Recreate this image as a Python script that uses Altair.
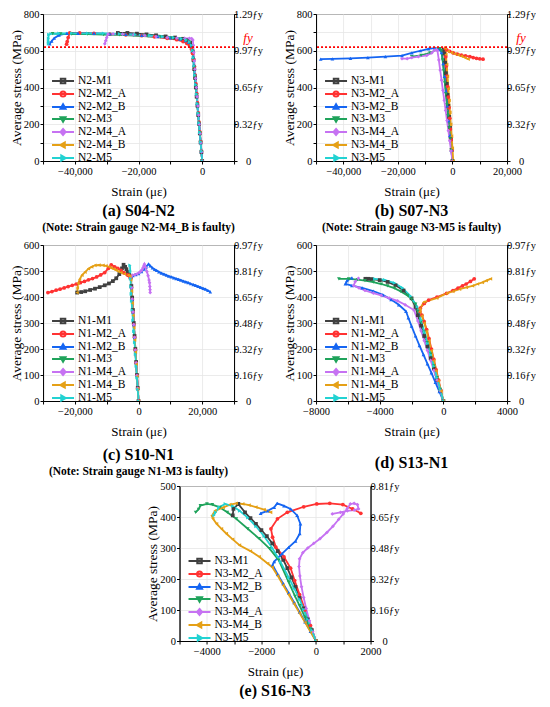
import json
import altair as alt
import pandas as pd

FONT = "Liberation Serif"
FY = 620

SERIES = ["M1", "M2_A", "M2_B", "M3", "M4_A", "M4_B", "M5"]
COLORS = ["#404040", "#ff3232", "#1565f2", "#1fa35b", "#c672f2", "#e5a016", "#22d2d2"]
MARKERS = ["square", "circle", "triangle-up", "triangle-down", "diamond", "triangle-left", "triangle-right"]
LEGEND_SYMBOLS = [
    "M-2.2,0H2.2M-0.45,-0.45H0.45V0.45H-0.45Z",
    "M-2.2,0H2.2M0.5,0A0.5,0.5 0 1,1 -0.5,0A0.5,0.5 0 1,1 0.5,0Z",
    "M-2.2,0H2.2M0,-0.55L0.5,0.35H-0.5Z",
    "M-2.2,0H2.2M0,0.55L0.5,-0.35H-0.5Z",
    "M-2.2,0H2.2M0,-0.6L0.5,0L0,0.6L-0.5,0Z",
    "M-2.2,0H2.2M-0.55,0L0.35,-0.5V0.5Z",
    "M-2.2,0H2.2M0.55,0L-0.35,-0.5V0.5Z",
]

# ---------------- (a) S04-N2 ----------------
A_M1 = [(0, 0), (-250, 48), (-500, 101), (-750, 150), (-1000, 202), (-1250, 250), (-1500, 301), (-1750, 350),
        (-2000, 400), (-2250, 452), (-2500, 500), (-2750, 550), (-3000, 595), (-3300, 625), (-3800, 645),
        (-4600, 657), (-6000, 665), (-8500, 672), (-11500, 678), (-14500, 684), (-17500, 689), (-20500, 693),
        (-23500, 697), (-26500, 697)]
A_M2_A = [(0, 0), (-240, 52), (-490, 106), (-730, 158), (-980, 211), (-1220, 262), (-1470, 316), (-1710, 367),
          (-1960, 420), (-2200, 468), (-2450, 515), (-2700, 553), (-3000, 585), (-3400, 610), (-4000, 628),
          (-4800, 640), (-6000, 650), (-8000, 660), (-11000, 668), (-15000, 676), (-19000, 682), (-24000, 687),
          (-29000, 691), (-34000, 695), (-38500, 697), (-41600, 697), (-42100, 672), (-42400, 650), (-42600, 636)]
A_M2_B = [(0, 0), (-260, 52), (-520, 104), (-780, 157), (-1040, 210), (-1300, 262), (-1560, 314), (-1820, 366),
          (-2080, 418), (-2340, 470), (-2600, 520), (-2850, 565), (-3100, 600), (-3500, 628), (-4200, 645),
          (-5200, 655), (-7000, 663), (-10000, 670), (-14000, 677), (-19000, 684), (-24000, 689), (-29000, 692),
          (-34000, 694), (-39000, 695), (-42500, 694), (-45000, 685), (-46500, 668), (-47300, 652), (-47900, 638)]
A_M3 = [(0, 0), (-250, 51), (-500, 102), (-760, 154), (-1010, 205), (-1260, 256), (-1520, 308), (-1770, 359),
        (-2020, 410), (-2280, 462), (-2530, 512), (-2780, 558), (-3050, 598), (-3400, 628), (-4000, 646),
        (-5000, 656), (-6800, 663), (-9500, 669), (-13000, 674), (-17000, 679), (-21500, 683), (-26000, 686),
        (-31000, 688), (-36000, 690), (-41000, 691), (-44500, 692), (-47000, 693)]
A_M4_A = [(0, 0), (-230, 50), (-460, 100), (-690, 150), (-920, 200), (-1150, 250), (-1380, 300), (-1610, 350),
          (-1840, 400), (-2070, 450), (-2300, 500), (-2500, 545), (-2650, 590), (-2800, 630), (-2950, 658),
          (-3300, 666), (-4000, 667), (-5500, 667), (-8000, 669), (-11000, 672), (-14500, 677), (-18000, 683),
          (-21500, 687), (-25000, 690), (-28000, 692), (-29600, 690), (-30000, 672), (-30300, 655), (-30600, 638)]
A_M4_B = []
A_M5 = [(0, 0), (-255, 52), (-510, 104), (-765, 156), (-1020, 208), (-1275, 260), (-1530, 312), (-1785, 364),
        (-2040, 416), (-2295, 468), (-2550, 518), (-2800, 562), (-3050, 602), (-3400, 630), (-4000, 648),
        (-5000, 658), (-6500, 665), (-9000, 671), (-12500, 677), (-16500, 683), (-21000, 688), (-26000, 692),
        (-31000, 694), (-36000, 695), (-41000, 695), (-45000, 694), (-47500, 692), (-48200, 688), (-48300, 668),
        (-48300, 650), (-48300, 638)]

# ---------------- (b) S07-N3 ----------------
B_M1 = [(0, 0), (-300, 60), (-600, 120), (-900, 180), (-1200, 240), (-1500, 300), (-1800, 360), (-2100, 420),
        (-2400, 478), (-2700, 535), (-3000, 585), (-3300, 605)]
B_M2_A = [(0, 0), (-250, 58), (-500, 116), (-750, 174), (-1000, 232), (-1250, 290), (-1500, 348), (-1750, 405),
          (-2000, 462), (-2250, 518), (-2450, 568), (-2650, 612), (-2100, 605), (-1000, 597), (300, 588),
          (1800, 581), (3300, 576), (4800, 572), (6400, 568), (7600, 563), (8800, 559), (10000, 556), (11200, 554)]
B_M2_B = [(0, 0), (-400, 60), (-900, 140), (-1400, 220), (-1900, 300), (-2400, 380), (-2900, 460), (-3400, 530),
          (-4000, 590), (-5000, 610), (-6400, 614), (-8800, 610), (-11800, 600), (-14900, 588), (-18500, 574),
          (-24600, 568), (-31000, 563), (-37400, 559), (-44000, 556), (-48300, 554)]
B_M3 = [(0, 0), (-400, 60), (-800, 120), (-1200, 180), (-1600, 245), (-2000, 305), (-2400, 365), (-2800, 425),
        (-3200, 490), (-3600, 550), (-4000, 600), (-4600, 612), (-5700, 608), (-8200, 588), (-11500, 575),
        (-14900, 568)]
B_M4_A = [(0, 0), (-500, 55), (-1000, 110), (-1500, 165), (-2000, 220), (-2500, 275), (-3000, 330), (-3500, 385),
          (-4000, 440), (-4500, 495), (-5000, 550), (-5500, 600), (-5800, 606), (-6400, 604), (-7600, 588),
          (-9400, 575), (-12500, 568), (-14900, 563), (-16600, 557), (-18500, 557)]
B_M4_B = [(300, 0), (0, 70), (-300, 135), (-600, 200), (-900, 265), (-1200, 330), (-1500, 395), (-1800, 460),
          (-2100, 525), (-2400, 580), (-2650, 614), (-1500, 597), (-300, 590), (900, 583), (2100, 577),
          (3300, 571), (4500, 563), (5800, 554)]
B_M5 = []

# ---------------- (c) S10-N1 ----------------
C_M1 = [(0, 0), (-250, 50), (-500, 100), (-750, 150), (-1000, 200), (-1250, 250), (-1500, 300), (-1750, 350),
        (-2000, 398), (-2250, 442), (-2500, 475), (-2970, 484), (-3400, 496), (-3800, 507), (-4200, 516),
        (-4700, 524), (-5200, 510), (-6030, 488), (-7000, 472), (-8070, 461), (-9300, 452), (-10620, 445),
        (-12200, 438), (-13680, 432), (-15200, 427), (-16740, 422), (-18000, 419), (-19290, 417)]
C_M2_A = [(0, 0), (-240, 48), (-490, 97), (-730, 146), (-980, 196), (-1220, 244), (-1470, 293), (-1710, 342),
          (-1960, 390), (-2200, 436), (-2450, 472), (-2900, 481), (-3480, 485), (-4500, 493), (-5500, 502),
          (-6500, 510), (-7500, 516), (-8580, 524), (-9500, 510), (-10620, 494), (-11900, 485), (-13170, 477),
          (-14450, 471), (-15720, 466), (-17000, 460), (-18270, 455), (-19550, 450), (-20820, 445), (-22100, 440),
          (-23370, 435), (-24650, 430), (-25900, 426), (-27200, 421), (-28470, 417)]
C_M2_B = [(0, 0), (-245, 49), (-490, 98), (-735, 147), (-980, 196), (-1225, 245), (-1470, 294), (-1715, 343),
          (-1960, 392), (-2200, 438), (-2420, 478), (-1800, 482), (-900, 486), (0, 490), (900, 498), (1700, 507),
          (2400, 516), (3150, 527), (3700, 520), (4400, 512), (5100, 506), (5700, 502), (6400, 497), (7200, 492),
          (8000, 488), (8760, 484), (9500, 480), (10300, 477), (11100, 474), (11820, 471), (12600, 468),
          (13300, 465), (14100, 461), (14880, 458), (15600, 455), (16400, 451), (17200, 448), (17940, 445),
          (18700, 441), (19500, 437), (20300, 433), (21000, 430), (21800, 425), (22530, 420)]
C_M3 = []
C_M4_A = [(0, 0), (-250, 49), (-500, 98), (-750, 147), (-1000, 196), (-1250, 245), (-1500, 294), (-1750, 343),
          (-2000, 392), (-2200, 436), (-2400, 478), (-1950, 484), (-1200, 486), (-420, 489), (300, 495),
          (800, 500), (1110, 505), (1450, 513), (1700, 520), (1850, 526), (2200, 514), (2640, 498), (3000, 482),
          (3300, 465), (3456, 455), (3550, 440), (3620, 428), (3660, 417)]
C_M4_B = [(0, 0), (-240, 47), (-480, 94), (-720, 141), (-960, 188), (-1200, 235), (-1440, 282), (-1680, 329),
          (-1920, 376), (-2160, 423), (-2400, 466), (-2700, 480), (-3270, 484), (-4400, 489), (-5520, 494),
          (-6300, 498), (-7000, 503), (-7800, 508), (-8580, 512), (-9300, 516), (-10200, 520), (-11130, 522),
          (-12400, 523), (-13680, 522), (-14700, 516), (-15720, 509), (-16800, 496), (-17760, 484), (-18500, 468),
          (-18980, 452), (-19200, 435), (-19290, 417)]
C_M5 = [(0, 0), (-250, 45), (-500, 90), (-750, 135), (-1000, 180), (-1250, 225), (-1500, 268), (-1750, 310),
        (-2000, 350), (-2200, 385), (-2300, 412), (-2400, 440), (-2500, 470), (-2600, 500), (-2700, 522)]

# ---------------- (d) S13-N1 ----------------
D_M1 = [(0, 0), (-200, 40), (-400, 80), (-600, 125), (-800, 165), (-1000, 210), (-1200, 250), (-1400, 290),
        (-1600, 330), (-1750, 360), (-2000, 395), (-2500, 425), (-3000, 445), (-3500, 458), (-4000, 465),
        (-4500, 469), (-4720, 470), (-4900, 470)]
D_M2_A = [(0, 0), (-150, 40), (-300, 80), (-450, 120), (-600, 160), (-750, 200), (-900, 240), (-1050, 275),
          (-1200, 305), (-1350, 330), (-1480, 345), (-1450, 357), (-1200, 375), (-927, 388), (-400, 400),
          (200, 414), (600, 425), (918, 434), (1200, 443), (1430, 450), (1700, 460), (1940, 470)]
D_M2_B = [(0, 0), (-250, 36), (-500, 72), (-750, 108), (-1000, 143), (-1250, 178), (-1500, 213), (-1750, 250),
          (-2000, 288), (-2200, 320), (-2350, 345), (-2800, 370), (-3285, 390), (-3800, 408), (-4410, 423),
          (-5100, 435), (-5745, 444), (-6155, 450), (-6050, 463), (-5745, 474)]
D_M3 = [(0, 0), (-200, 45), (-400, 90), (-600, 135), (-800, 180), (-1000, 225), (-1200, 265), (-1400, 305),
        (-1600, 345), (-1750, 373), (-2000, 392), (-2260, 406), (-2700, 422), (-3080, 434), (-3500, 443),
        (-3900, 450), (-4400, 457), (-4925, 463), (-5400, 467), (-5950, 470), (-6565, 470)]
D_M4_A = [(0, 0), (-200, 40), (-400, 80), (-600, 118), (-800, 156), (-1000, 194), (-1200, 232), (-1400, 270),
          (-1600, 308), (-1850, 350), (-2400, 370), (-2875, 385), (-3400, 396), (-3900, 406), (-4400, 415),
          (-4925, 425), (-5300, 435), (-5640, 444), (-5540, 459), (-5335, 472)]
D_M4_B = [(0, 0), (-150, 38), (-300, 77), (-450, 116), (-600, 155), (-750, 194), (-900, 232), (-1050, 268),
          (-1200, 300), (-1350, 327), (-1480, 345), (-1480, 354), (-1235, 380), (-415, 396), (200, 414),
          (600, 422), (1020, 430), (1450, 437), (1840, 443), (2150, 450), (2455, 456), (2700, 463), (2967, 470)]
D_M5 = [(0, 0), (-200, 45), (-400, 90), (-600, 134), (-800, 178), (-1000, 222), (-1200, 265), (-1400, 310),
        (-1645, 362), (-2055, 403), (-2568, 435), (-3080, 454), (-3695, 466), (-4310, 470)]

# ---------------- (e) S16-N3 ----------------
E_M1 = [(0, 0), (-150, 35), (-300, 70), (-450, 105), (-600, 140), (-750, 175), (-900, 205), (-1050, 235),
        (-1200, 262), (-1400, 290), (-1600, 315), (-1800, 338), (-2000, 358), (-2200, 378), (-2400, 396),
        (-2600, 415), (-2845, 442), (-3025, 426), (-3050, 405)]
E_M2_A = [(0, 0), (-200, 50), (-400, 100), (-600, 150), (-780, 195), (-930, 235), (-1170, 271), (-1470, 303),
          (-1590, 335), (-1650, 362), (-1410, 394), (-1050, 415), (-450, 433), (28, 442), (506, 444), (985, 440),
          (1345, 426), (1643, 412)]
E_M2_B = [(0, 0), (-200, 31), (-400, 62), (-600, 93), (-800, 124), (-1000, 155), (-1200, 185), (-1400, 215),
          (-1590, 245), (-1530, 256), (-1240, 282), (-1000, 302), (-750, 322), (-595, 346), (-570, 378),
          (-690, 405), (-930, 426), (-1170, 436), (-1420, 444), (-1530, 431), (-1770, 420), (-2030, 412)]
E_M3 = [(0, 0), (-200, 38), (-400, 76), (-600, 114), (-764, 144), (-1000, 190), (-1364, 261), (-1700, 298),
        (-2080, 330), (-2500, 362), (-2920, 394), (-3250, 415), (-3520, 431), (-3800, 440), (-3995, 442),
        (-4235, 437), (-4300, 425), (-4410, 415)]
E_M4_A = [(0, 0), (-120, 30), (-240, 65), (-360, 105), (-450, 140), (-530, 175), (-590, 210), (-620, 240),
          (-600, 265), (-480, 285), (-300, 300), (-80, 315), (150, 330), (400, 350), (620, 370), (830, 392),
          (1000, 410), (1150, 428), (1260, 442), (1400, 444), (1520, 440), (1560, 426), (1400, 422), (1150, 420),
          (900, 415), (600, 410)]
E_M4_B = [(0, 0), (-200, 30), (-400, 60), (-600, 90), (-800, 120), (-1000, 150), (-1200, 180), (-1400, 210),
          (-1600, 238), (-1770, 250), (-2080, 272), (-2400, 290), (-2800, 309), (-3050, 328), (-3280, 346),
          (-3460, 362), (-3640, 378), (-3780, 395), (-3815, 404), (-3700, 420), (-3395, 431), (-3150, 440),
          (-2920, 444), (-2680, 442), (-2450, 438), (-2200, 432), (-1900, 424), (-1660, 415)]
E_M5 = [(0, 0), (-150, 35), (-300, 70), (-450, 102), (-600, 135), (-800, 170), (-1000, 205), (-1300, 255),
        (-1600, 300), (-1900, 338), (-2200, 370), (-2500, 398), (-2800, 420), (-3050, 435), (-3324, 442),
        (-3550, 432), (-3680, 415), (-3740, 405)]

# ---------------- axes ----------------
XT_A = [-50000, -40000, -30000, -20000, -10000, 0, 10000]
XL_A = [-40000, -20000, 0]
XT_B = [-50000, -40000, -30000, -20000, -10000, 0, 10000, 20000]
XL_B = [-40000, -20000, 0, 20000]
XT_C = [-30000, -20000, -10000, 0, 10000, 20000, 30000]
XL_C = [-20000, 0, 20000]
XT_D = [-8000, -6000, -4000, -2000, 0, 2000, 4000]
XL_D = [-8000, -4000, 0, 4000]
XT_E = [-5000, -4000, -3000, -2000, -1000, 0, 1000, 2000]
XL_E = [-4000, -2000, 0, 2000]
YT_AB = [0, 100, 200, 300, 400, 500, 600, 700, 800]
YL_AB = [0, 200, 400, 600, 800]
YT_CD = [0, 100, 200, 300, 400, 500, 600]
YT_E = [0, 100, 200, 300, 400, 500]
RIGHT_AB = [(0, "0"), (200, "0.32ƒy"), (400, "0.65ƒy"), (600, "0.97ƒy"), (800, "1.29ƒy")]
RIGHT_CD = [(0, "0"), (100, "0.16ƒy"), (200, "0.32ƒy"), (300, "0.48ƒy"), (400, "0.65ƒy"), (500, "0.81ƒy"),
            (600, "0.97ƒy")]
RIGHT_E = [(0, "0"), (100, "0.16ƒy"), (200, "0.32ƒy"), (300, "0.48ƒy"), (400, "0.65ƒy"), (500, "0.81ƒy")]

W = 191


def panel(prefix, curves, xdom, xticks, xlabels, xfmt, ydom, yticks, ylabels, right, title, note, show_fy,
          toff, h):
    names = [f"{prefix}-{s}" for s in SERIES]
    rows = []
    for name, pts in zip(names, curves):
        for i, (sx, sy) in enumerate(pts):
            rows.append({"series": name, "strain": sx, "stress": sy, "idx": i})
    df = pd.DataFrame(rows)
    base = alt.Chart(df)
    xscale = alt.Scale(domain=xdom, nice=False, zero=False)
    yscale = alt.Scale(domain=ydom, nice=False, zero=False)
    xexpr = "indexof(%s, datum.value) >= 0 ? format(datum.value, '%s') : ''" % (json.dumps(xlabels), xfmt)
    X = alt.X("strain:Q", scale=xscale,
              axis=alt.Axis(values=xticks, labelExpr=xexpr, title="Strain (με)", grid=True,
                            labelFlush=False, labelOverlap=False, titlePadding=9))
    yexpr = "indexof(%s, datum.value) >= 0 ? format(datum.value, 'd') : ''" % json.dumps(ylabels)
    Yl = alt.Y("stress:Q", scale=yscale,
               axis=alt.Axis(values=yticks, labelExpr=yexpr, title="Average stress (MPa)", grid=True,
                             titleFontSize=13.5, titlePadding=0, labelPadding=1))
    Yn = alt.Y("stress:Q", scale=yscale, axis=None)
    rexpr = "".join("datum.value == %d ? '%s' : " % (v, t) for v, t in right) + "''"
    Yr = alt.Y("stress:Q", scale=yscale,
               axis=alt.Axis(orient="right", values=[v for v, _ in right], labelExpr=rexpr, title=None,
                             grid=False, labelAlign="center", labelPadding=11))

    layers = [base.mark_point(opacity=0).encode(x=X, y=Yl)]
    for n, col in zip(names, COLORS):
        layers.append(base.transform_filter(alt.datum.series == n).mark_line(
            strokeWidth=1.8, clip=True, color=col).encode(x=X, y=Yn, order="idx:Q"))
    for n, col, m in zip(names, COLORS, MARKERS):
        layers.append(base.transform_filter(alt.datum.series == n).mark_point(
            shape=m, filled=True, size=14, opacity=1, clip=True, color=col).encode(x=X, y=Yn))
    if show_fy:
        fydf = pd.DataFrame({"fy": [FY]})
        layers.append(alt.Chart(fydf).mark_rule(color="#ff0000", strokeDash=[2, 2], strokeWidth=1.6).encode(
            y=alt.Y("fy:Q", scale=yscale, axis=None)))
        layers.append(alt.Chart(fydf).mark_text(text="fy", color="#ff0000", fontStyle="italic", font=FONT,
                                                fontSize=13, dy=-9, align="center").encode(
            x=alt.value(W + 14), y=alt.Y("fy:Q", scale=yscale, axis=None)))
    layers.append(base.mark_point(opacity=0).encode(y=Yr))
    leg = alt.Legend(orient="none", legendX=14, legendY=h - 86, title=None, labelFont=FONT, labelFontSize=11.5,
                     symbolSize=100, symbolStrokeWidth=2, rowPadding=-2, labelOffset=9, padding=0)
    layers.append(base.transform_filter(alt.datum.idx == 0).mark_point(
        filled=False, strokeWidth=2, size=100, opacity=1, clip=True).encode(
        x=alt.value(-999), y=alt.value(-999),
        color=alt.Color("series:N", scale=alt.Scale(domain=names, range=COLORS), legend=leg),
        shape=alt.Shape("series:N", scale=alt.Scale(domain=names, range=LEGEND_SYMBOLS), legend=leg)))
    tkw = dict(text=title, orient="bottom", anchor="middle", font=FONT, fontSize=16, fontWeight="bold",
               color="black", offset=toff)
    if note:
        tkw.update(subtitle=note, subtitleFont=FONT, subtitleFontSize=11.5, subtitleFontWeight="bold",
                   subtitleColor="black", subtitlePadding=3)
    return alt.layer(*layers).resolve_scale(y="independent").properties(
        width=W, height=h, title=alt.TitleParams(**tkw))


pa = panel("N2", [A_M1, A_M2_A, A_M2_B, A_M3, A_M4_A, A_M4_B, A_M5], [-50000, 10000], XT_A, XL_A, ",",
           [0, 800], YT_AB, YL_AB, RIGHT_AB, "(a) S04-N2", "(Note: Strain gauge N2-M4_B is faulty)", True, 4, 147)
pb = panel("N3", [B_M1, B_M2_A, B_M2_B, B_M3, B_M4_A, B_M4_B, B_M5], [-50000, 20000], XT_B, XL_B, ",",
           [0, 800], YT_AB, YL_AB, RIGHT_AB, "(b) S07-N3", "(Note: Strain gauge N3-M5 is faulty)", True, 4, 147)
pc = panel("N1", [C_M1, C_M2_A, C_M2_B, C_M3, C_M4_A, C_M4_B, C_M5], [-30000, 30000], XT_C, XL_C, ",",
           [0, 600], YT_CD, YT_CD, RIGHT_CD, "(c) S10-N1", "(Note: Strain gauge N1-M3 is faulty)", False, 8, 156)
pd_ = panel("N1", [D_M1, D_M2_A, D_M2_B, D_M3, D_M4_A, D_M4_B, D_M5], [-8000, 4000], XT_D, XL_D, "d",
            [0, 600], YT_CD, YT_CD, RIGHT_CD, "(d) S13-N1", None, False, 16, 156)
pe = panel("N3", [E_M1, E_M2_A, E_M2_B, E_M3, E_M4_A, E_M4_B, E_M5], [-5000, 2000], XT_E, XL_E, "d",
           [0, 500], YT_E, YT_E, RIGHT_E, "(e) S16-N3", None, False, 4, 155)

IND = dict(color="independent", shape="independent")
row1 = alt.hconcat(pa, pb, spacing=18).resolve_scale(**IND).resolve_legend(**IND)
row2 = alt.hconcat(pc, pd_, spacing=18).resolve_scale(**IND).resolve_legend(**IND)
top = alt.vconcat(row1, row2, spacing=5).resolve_scale(**IND).resolve_legend(**IND)
chart = alt.vconcat(top, pe, spacing=2, center=True).resolve_scale(**IND).resolve_legend(
    **IND).properties(padding=0).configure(font=FONT).configure_view(
    stroke="black", strokeWidth=1).configure_axis(
    labelFont=FONT, labelFontSize=10.5, labelColor="black", titleFont=FONT, titleFontSize=13,
    titleFontWeight="normal", titleColor="black", domainColor="black", tickColor="black", tickSize=3,
    gridColor="#e6e6e6", gridWidth=0.8, labelPadding=2
)

chart.save("out.html", embed_options={"renderer": "svg", "actions": False})
